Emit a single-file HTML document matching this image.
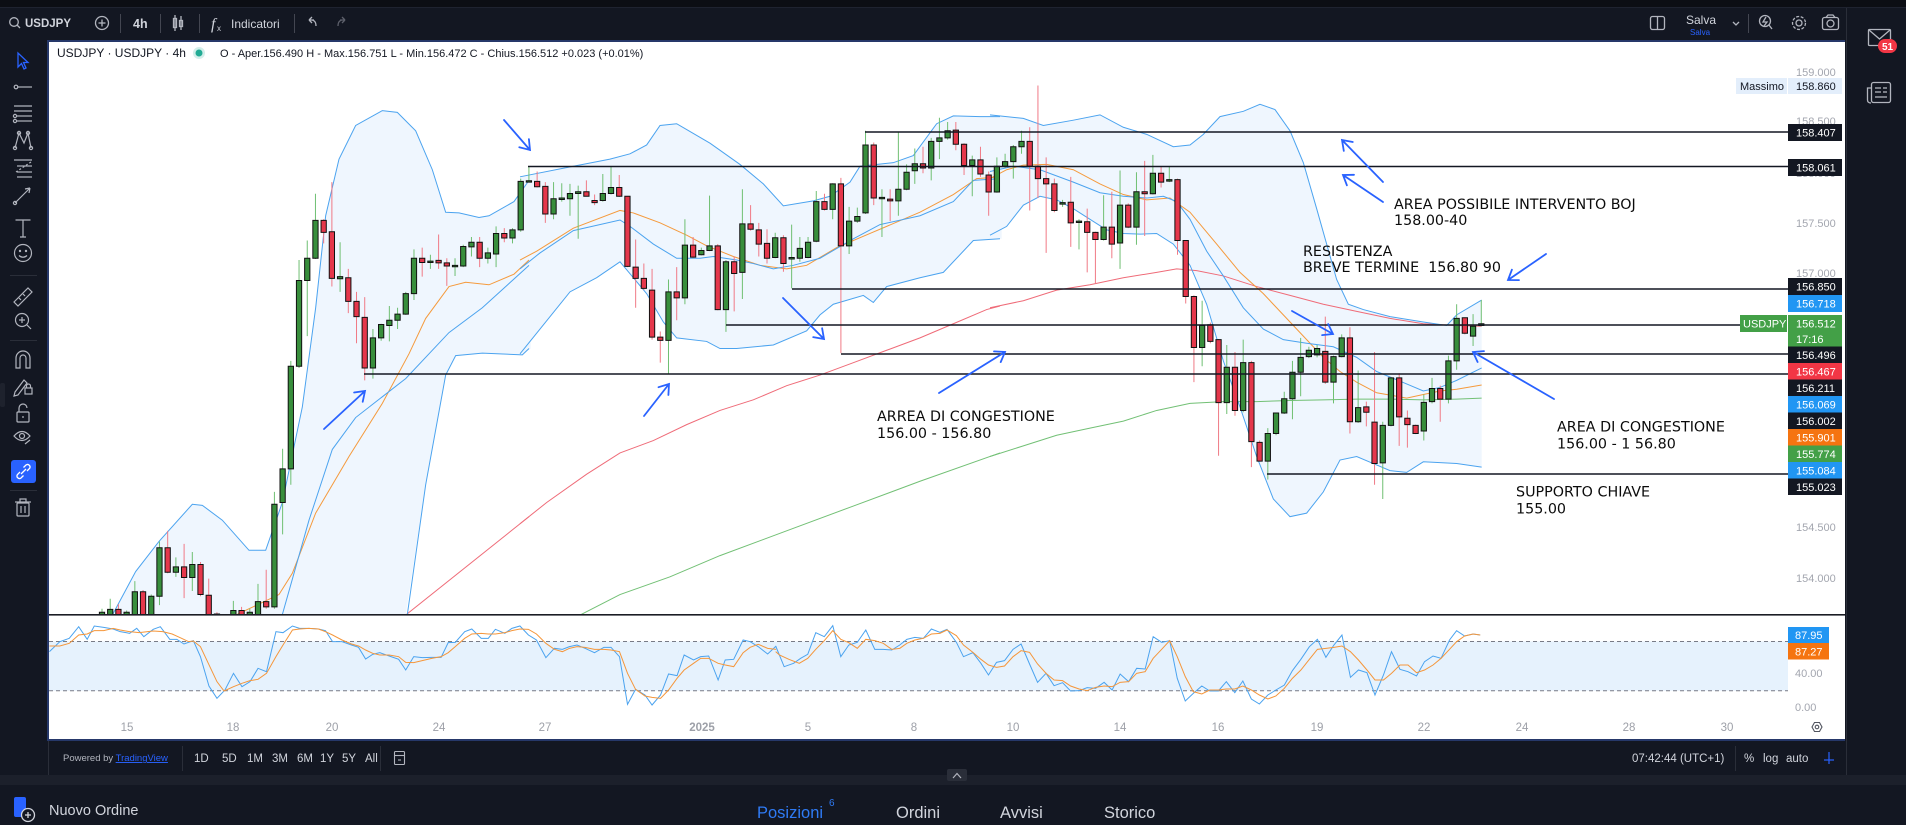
<!DOCTYPE html>
<html><head><meta charset="utf-8"><title>USDJPY 4h</title>
<style>
html,body{margin:0;padding:0;background:#131722;}
body{width:1906px;height:825px;overflow:hidden;}
svg{display:block;}
</style></head>
<body>
<svg xmlns="http://www.w3.org/2000/svg" width="1906" height="825" viewBox="0 0 1906 825" font-family="'Liberation Sans', sans-serif">
<defs>
<clipPath id="pc"><rect x="49" y="42" width="1739" height="572"/></clipPath>
<clipPath id="oc"><rect x="49" y="616" width="1739" height="100"/></clipPath>
</defs>

<!-- backgrounds -->
<rect x="0" y="0" width="1906" height="825" fill="#131722"/>
<rect x="0" y="0" width="1906" height="7" fill="#0c0e14"/>
<line x1="0" y1="7.5" x2="1906" y2="7.5" stroke="#1f2330"/>
<rect x="49" y="42" width="1796" height="697" fill="#ffffff"/>
<!-- chart widget border -->
<rect x="47" y="40" width="1798" height="2" fill="#26386a"/>
<rect x="47" y="40" width="2" height="701" fill="#26386a"/>
<rect x="47" y="739" width="1798" height="2" fill="#26386a"/>
<line x1="1846.5" y1="8" x2="1846.5" y2="775" stroke="#2a2e39"/>
<!-- bottom toolbar / strip / panel -->
<line x1="48.5" y1="741" x2="48.5" y2="775" stroke="#2a2e39"/>
<rect x="0" y="775" width="1906" height="10" fill="#1c202b"/>
<rect x="0" y="785" width="1906" height="40" fill="#131722"/>

<!-- ================= TOP TOOLBAR ================= -->
<g stroke="#b2b5be" fill="none" stroke-width="1.3">
<circle cx="14" cy="22" r="4.3"/><line x1="17" y1="25" x2="20" y2="28"/>
<circle cx="102" cy="23" r="6.5"/><line x1="98.5" y1="23" x2="105.5" y2="23"/><line x1="102" y1="19.5" x2="102" y2="26.5"/>
<rect x="173.5" y="18.5" width="3" height="9"/><line x1="175" y1="15" x2="175" y2="31"/>
<rect x="179.5" y="20.5" width="3" height="6"/><line x1="181" y1="16" x2="181" y2="30"/>
<path d="M314 20 H309 M309 20 L312 17 M309 20 L312 23 M309 20 Q316 19 316 26"/>
</g>
<path d="M340 20 H345 M345 20 L342 17 M345 20 L342 23 M345 20 Q338 19 338 26" stroke="#5d606b" stroke-width="1.3" fill="none"/>
<g stroke="#434651"><line x1="120.5" y1="14" x2="120.5" y2="33"/><line x1="160.5" y1="14" x2="160.5" y2="33"/><line x1="199.5" y1="14" x2="199.5" y2="33"/><line x1="294.5" y1="14" x2="294.5" y2="33"/><line x1="1748.5" y1="14" x2="1748.5" y2="33"/></g>
<text x="25" y="27" fill="#d1d4dc" font-size="11.5" font-weight="bold">USDJPY</text>
<text x="133" y="28" fill="#d1d4dc" font-size="12.5" font-weight="bold">4h</text>
<text x="211" y="29" fill="#d1d4dc" font-size="16" font-style="italic" font-family="'Liberation Serif', serif">f</text>
<text x="217" y="31" fill="#d1d4dc" font-size="8">x</text>
<text x="231" y="28" fill="#d1d4dc" font-size="12">Indicatori</text>
<g stroke="#b2b5be" fill="none" stroke-width="1.3">
<rect x="1650.5" y="16.5" width="14" height="13" rx="2"/><line x1="1657.5" y1="17" x2="1657.5" y2="29"/>
<path d="M1733 22 L1736 25 L1739 22"/>
<circle cx="1765" cy="21" r="5.5"/><line x1="1769" y1="25" x2="1772" y2="29"/><path d="M1766 17 L1763 22 H1767 L1764 26"/>
<circle cx="1799" cy="23" r="3"/><circle cx="1799" cy="23" r="6.5" stroke-dasharray="3 1.6"/>
<rect x="1822.5" y="17.5" width="16" height="12" rx="2"/><circle cx="1830.5" cy="23.5" r="3.5"/><path d="M1826 17.5 L1828 15 H1833 L1835 17.5"/>
</g>
<text x="1686" y="24" fill="#d1d4dc" font-size="12">Salva</text>
<text x="1690" y="35" fill="#2962ff" font-size="8">Salva</text>

<!-- right sidebar icons -->
<g stroke="#b2b5be" fill="none" stroke-width="1.3">
<rect x="1868.5" y="29.5" width="22" height="16" rx="1"/><path d="M1869 30 L1879.5 39 L1890 30"/>
<rect x="1871.5" y="82.5" width="19" height="20" rx="2"/><path d="M1871.5 88 H1867.5 V100 Q1867.5 103 1871 103"/>
<line x1="1875" y1="88" x2="1881" y2="88"/><line x1="1875" y1="92" x2="1881" y2="92"/><line x1="1883" y1="88" x2="1887" y2="88"/><line x1="1883" y1="92" x2="1887" y2="92"/><line x1="1875" y1="97" x2="1887" y2="97"/>
</g>
<rect x="1878" y="39" width="19" height="14" rx="7" fill="#f23645"/>
<text x="1887.5" y="50" fill="#ffffff" font-size="10" font-weight="bold" text-anchor="middle">51</text>

<!-- ================= LEFT TOOLBAR ================= -->
<path d="M18 53 L18 67 L21.5 63.5 L24 69 L26 68 L23.5 62.5 L28 62.5 Z" stroke="#2962ff" stroke-width="1.3" fill="none"/>
<g stroke="#b2b5be" fill="none" stroke-width="1.2">
<line x1="18" y1="87" x2="32" y2="87"/><circle cx="16" cy="87" r="1.8"/>
<line x1="14" y1="106" x2="32" y2="106"/><line x1="14" y1="111" x2="32" y2="111"/><line x1="17" y1="116" x2="32" y2="116"/><line x1="17" y1="121" x2="32" y2="121"/><circle cx="15" cy="116" r="1.6"/><circle cx="15" cy="121" r="1.6"/>
<path d="M15 148 L19 133 L24 143 L28 133 L31 148"/><circle cx="15" cy="148" r="1.6"/><circle cx="19" cy="133" r="1.6"/><circle cx="28" cy="133" r="1.6"/><circle cx="31" cy="148" r="1.6"/>
<line x1="14" y1="160" x2="32" y2="160"/><line x1="17" y1="166" x2="32" y2="166"/><line x1="17" y1="172" x2="32" y2="172"/><line x1="17" y1="177" x2="32" y2="177"/><path d="M16 172 L31 162" stroke-dasharray="2 2"/>
<path d="M15 203 L30 188 M30 188 L25 189 M30 188 L29 193"/><circle cx="15" cy="203" r="1.6"/>
<path d="M15.5 220 H30.5 M23 220 V237 M20 237 H26"/>
<circle cx="23" cy="253" r="8.5"/><path d="M19 255.5 Q23 259 27 255.5"/><circle cx="20" cy="251" r=".6"/><circle cx="26" cy="251" r=".6"/>
<polygon points="14,302 28,288 32,292 18,306"/><line x1="19" y1="298" x2="21" y2="300"/><line x1="23" y1="294" x2="25" y2="296"/>
<circle cx="22" cy="320" r="6.5"/><line x1="27" y1="325" x2="31" y2="329"/><line x1="19" y1="320" x2="25" y2="320"/><line x1="22" y1="317" x2="22" y2="323"/>
<path d="M16 368 V358 A7 7 0 0 1 30 358 V368 H26 V358 A3 3 0 0 0 20 358 V368 Z"/>
<path d="M15 392 L24 380 L27 383 L18 395 L14 396 Z"/><rect x="25" y="388" width="7" height="6"/><path d="M26.5 388 V386 A2 2 0 0 1 30.5 386 V388"/>
<rect x="17" y="412" width="12" height="10" rx="1"/><path d="M19 412 V408 A4 4 0 0 1 27 408"/><line x1="23" y1="416" x2="23" y2="418"/>
<path d="M14 436 Q22 427 30 436 Q22 445 14 436 Z"/><circle cx="22" cy="436" r="2.5"/><line x1="25" y1="444" x2="30" y2="440"/>
<rect x="17" y="503" width="12" height="13" rx="1"/><line x1="15" y1="502" x2="31" y2="502"/><path d="M20 502 V499 H26 V502"/><line x1="21" y1="506" x2="21" y2="513"/><line x1="25" y1="506" x2="25" y2="513"/>
</g>
<rect x="11" y="460" width="25" height="23" rx="3" fill="#2962ff"/>
<g stroke="#ffffff" fill="none" stroke-width="1.3"><path d="M20 472 L17.5 474.5 A2.5 2.5 0 0 0 21 478 L23.5 475.5"/><path d="M27 471 L29.5 468.5 A2.5 2.5 0 0 0 26 465 L23.5 467.5"/><line x1="21" y1="474" x2="26" y2="469"/></g>
<g stroke="#2a2e39"><line x1="10" y1="275.5" x2="37" y2="275.5"/><line x1="10" y1="340.5" x2="37" y2="340.5"/><line x1="10" y1="490.5" x2="37" y2="490.5"/></g>
<rect x="0" y="383" width="5" height="24" rx="2" fill="#1e222d"/>

<!-- ================= PRICE PANE ================= -->
<g clip-path="url(#pc)">
<!-- BB fills -->
<g transform="translate(49 60) scale(.33333 .354)" fill="#eff6fe">
<path d="M190 1600L190 1568 260 1445 330 1360 430 1255 460 1258 520 1300 600 1385 650 1385 700 1250 760 980 800 700 830 440 870 280 920 185 1000 143 1045 148 1100 200 1150 310 1190 430 1230 432 1290 445 1320 440 1395 400 1445 338 1445 815 1420 833 1300 828 1220 835 1190 890 1130 1200 1070 1568 1070 1600Z"/>
</g>
<g transform="translate(520 60) scale(.33333 .354)" fill="#eff6fe">
<path d="M0 330L160 300 270 280 330 265 380 240 420 185 470 180 570 235 660 295 730 350 790 412 880 398 930 385 990 345 1020 300 1120 290 1180 270 1250 180 1300 158 1380 160 1445 160 1445 505 1360 510 1270 600 1200 615 1100 640 1060 685 1030 665 940 690 900 720 860 765 760 805 650 815 600 815 560 795 470 785 430 740 380 660 300 570 230 615 150 655 60 760 0 830Z"/>
</g>
<g transform="translate(990 60) scale(.33333 .354)" fill="#eff6fe">
<path d="M0 155L100 165 160 185 250 170 330 155 400 190 470 210 550 245 600 240 640 210 690 160 760 145 810 125 855 140 900 200 940 290 980 420 1010 520 1040 620 1075 690 1120 705 1200 725 1300 740 1370 750 1400 720 1475 678 1475 1150 1400 1140 1300 1135 1250 1165 1200 1160 1150 1140 1100 1120 1050 1130 1000 1220 950 1280 900 1290 850 1240 800 1120 750 980 700 850 650 690 600 580 550 520 500 490 450 492 400 490 350 480 300 450 250 420 200 395 150 385 100 410 50 470 0 495Z"/>
</g>
<!-- indicator lines -->
<g fill="none" stroke-width="1" vector-effect="non-scaling-stroke">
<g transform="translate(49 60) scale(.33333 .354)">
<path vector-effect="non-scaling-stroke" stroke="#ef6b78" d="M1070 1568L1440 1290"/>
<path vector-effect="non-scaling-stroke" stroke="#f59a3c" d="M560 1568L690 1510 730 1450 800 1280 900 1120 1000 970 1080 830 1130 730 1200 640 1250 628 1320 635 1395 605 1440 565"/>
<path vector-effect="non-scaling-stroke" stroke="#4ba3ef" d="M690 1600L780 1300 850 1100 920 1010 1070 900 1200 770 1300 700 1440 580"/>
<path vector-effect="non-scaling-stroke" stroke="#4ba3ef" d="M190 1568L260 1445 330 1360 430 1255 460 1258 520 1300 600 1385 650 1385 700 1250 760 980 800 700 830 440 870 280 920 185 1000 143 1045 148 1100 200 1150 310 1190 430 1230 432 1290 445 1320 440 1395 400 1440 340"/>
<path vector-effect="non-scaling-stroke" stroke="#4ba3ef" d="M1070 1600L1130 1200 1190 890 1220 835 1300 828 1420 833 1440 815"/>
</g>
<g transform="translate(520 60) scale(.33333 .354)">
<path vector-effect="non-scaling-stroke" stroke="#ef6b78" d="M0 1310L80 1250 200 1170 300 1110 400 1075 500 1030 600 990 700 960 800 920 900 890 1000 855 1100 820 1200 785 1300 745 1400 705 1440 695"/>
<path vector-effect="non-scaling-stroke" stroke="#72c075" d="M180 1568L300 1510 450 1460 600 1400 800 1330 1000 1260 1200 1190 1440 1110"/>
<path vector-effect="non-scaling-stroke" stroke="#f59a3c" d="M0 565L50 540 160 475 300 425 340 432 420 460 500 495 560 525 640 555 720 580 800 590 860 580 950 530 1050 490 1100 470 1200 430 1300 380 1370 335 1440 330"/>
<path vector-effect="non-scaling-stroke" stroke="#4ba3ef" d="M0 590L60 545 160 482 300 452 330 470 400 520 470 560 540 560 580 555 650 565 700 575 760 590 820 580 900 560 1000 505 1080 465 1200 440 1300 400 1360 340 1440 335"/>
<path vector-effect="non-scaling-stroke" stroke="#4ba3ef" d="M0 330L160 300 270 280 330 265 380 240 420 185 470 180 570 235 660 295 730 350 790 412 880 398 930 385 990 345 1020 300 1120 290 1180 270 1250 180 1300 158 1380 160 1440 160"/>
<path vector-effect="non-scaling-stroke" stroke="#4ba3ef" d="M0 830L60 760 150 655 230 615 300 570 380 660 430 740 470 785 560 795 600 815 650 815 760 805 860 765 900 720 940 690 1030 665 1060 685 1100 640 1200 615 1270 600 1360 510 1440 505"/>
</g>
<g transform="translate(990 60) scale(.33333 .354)">
<path vector-effect="non-scaling-stroke" stroke="#ef6b78" d="M0 700L100 680 200 650 300 635 400 615 500 600 560 590 620 595 700 610 800 640 900 665 1000 690 1100 710 1200 730 1300 745 1400 750 1475 752"/>
<path vector-effect="non-scaling-stroke" stroke="#72c075" d="M0 1120L100 1090 200 1060 300 1040 400 1020 500 990 600 970 700 965 800 965 900 962 1000 960 1100 958 1200 958 1300 960 1400 958 1475 955"/>
<path vector-effect="non-scaling-stroke" stroke="#f59a3c" d="M0 335L50 310 100 297 170 295 250 310 330 350 400 380 470 395 540 390 600 430 680 520 750 600 820 660 880 720 940 780 1000 840 1050 880 1100 910 1160 940 1250 955 1300 945 1350 935 1400 930 1475 918"/>
<path vector-effect="non-scaling-stroke" stroke="#4ba3ef" d="M0 315L70 300 150 310 250 345 330 375 400 385 470 390 520 385 560 400 600 450 650 540 700 610 760 700 820 760 880 790 950 800 1030 810 1100 840 1160 880 1250 915 1300 935 1350 925 1400 905 1475 870"/>
<path vector-effect="non-scaling-stroke" stroke="#4ba3ef" d="M0 155L100 165 160 185 250 170 330 155 400 190 470 210 550 245 600 240 640 210 690 160 760 145 810 125 855 140 900 200 940 290 980 420 1010 520 1040 620 1075 690 1120 705 1200 725 1300 740 1370 750 1400 720 1475 678"/>
<path vector-effect="non-scaling-stroke" stroke="#4ba3ef" d="M0 495L50 470 100 410 150 385 200 395 250 420 300 450 350 480 400 490 450 492 500 490 550 520 600 580 650 690 700 850 750 980 800 1120 850 1240 900 1290 950 1280 1000 1220 1050 1130 1100 1120 1150 1140 1200 1160 1250 1165 1300 1135 1400 1140 1475 1150"/>
</g>
</g>

<!-- candles -->
<g transform="translate(102 60) scale(8.21 .354)">
<path vector-effect="non-scaling-stroke" stroke="#6fbf72" stroke-width="1" fill="none" d="M0 1550V1600M1 1522V1600M3 1555V1600M4 1472V1600M6 1510V1600M7 1360V1540M9 1405V1460M11 1390V1500M15 1565V1600M16 1528V1600M18 1550V1600M19 1480V1600M21 1220V1550M22 1098V1340M23 850V1200M24 565V870M25 510V780M26 378V562M29 515V655M33 760V900M34 745V793M35 695V795M36 700V760M37 655V720M38 535V678M40 550V590M43 560V610M44 522V585M45 500V555M47 530V575M48 470V585M50 475V518M51 335V485M52 300V345M55 345V450M56 348V400M57 350V440M58 355V505M61 322V400M62 300V380M69 620V888M71 450V690M73 530V552M74 383V540M76 565V768M78 365V675M82 488V560M84 465V645M85 500V570M86 500V560M87 370V515M89 348V450M91 415V548M92 417V460M93 200V435M95 365V500M97 203V440M98 295V368M99 250V350M101 220V340M102 163V280M103 175V225M106 270V385M109 275V375M110 265V305M111 240V335M112 200V265M117 395V415M119 450V535M122 382V510M124 312V590M126 317V522M128 268V380M130 300V345M134 680V865M137 805V1000M139 790V995M142 1040V1185M143 997V1060M144 937V1000M145 850V1015M146 785V950M147 810V842M148 805V840M150 835V970M151 775V840M153 877V1025M156 1022V1240M157 895V1035M161 945V1075M162 898V970M164 835V970M165 690V875M167 718V808M168 678V752"/>
<path vector-effect="non-scaling-stroke" stroke="#f07a86" stroke-width="1" fill="none" d="M2 1537V1600M5 1497V1600M8 1330V1450M10 1367V1520M12 1418V1515M13 1465V1600M14 1560V1600M17 1545V1600M20 1440V1550M27 450V518M28 345V640M30 590V715M31 655V800M32 670V905M39 530V612M41 493V590M42 560V638M46 500V585M49 475V515M53 315V360M54 345V460M59 340V385M60 380V410M63 325V387M64 385V585M65 507V700M66 575V650M67 590V790M68 767V855M70 585V735M72 500V560M75 520V707M77 555V710M79 410V482M80 460V555M81 478V575M83 495V598M88 378V425M90 333V828M94 233V410M96 365V455M100 245V320M104 175V255M105 235V325M107 245V330M108 315V440M113 190V425M114 72V390M115 275V545M116 335V430M118 330V528M120 420V600M121 485V630M123 372V560M125 405V475M127 285V497M129 300V360M131 335V550M132 510V688M133 665V910M135 742V800M136 788V1118M138 825V1005M140 850V1150M141 1075V1135M149 725V915M152 755V1055M154 965V1035M155 825V1200M158 885V1090M159 990V1095M160 1030V1057M163 920V1022M166 727V775"/>
<path vector-effect="non-scaling-stroke" stroke="#111111" stroke-width="1" fill="#388e3c" d="M-.32 1560h.64V1600h-.64zM.68 1552h.64V1600h-.64zM2.68 1560h.64V1600h-.64zM3.68 1502h.64V1600h-.64zM5.68 1515h.64V1600h-.64zM6.68 1378h.64V1515h-.64zM8.68 1432h.64V1447h-.64zM10.68 1425h.64V1462h-.64zM14.68 1570h.64V1600h-.64zM15.68 1555h.64V1600h-.64zM17.68 1560h.64V1600h-.64zM18.68 1530h.64V1600h-.64zM20.68 1255h.64V1545h-.64zM21.68 1155h.64V1250h-.64zM22.68 865h.64V1155h-.64zM23.68 623h.64V865h-.64zM24.68 560h.64V623h-.64zM25.68 453h.64V560h-.64zM28.68 612h.64V618h-.64zM32.68 785h.64V870h-.64zM33.68 747h.64V785h-.64zM34.68 735h.64V750h-.64zM35.68 718h.64V735h-.64zM36.68 660h.64V718h-.64zM37.68 560h.64V660h-.64zM39.68 568h.64V572h-.64zM42.68 580h.64V584h-.64zM43.68 527h.64V582h-.64zM44.68 515h.64V528h-.64zM46.68 545h.64V560h-.64zM47.68 490h.64V548h-.64zM49.68 480h.64V503h-.64zM50.68 343h.64V480h-.64zM51.68 341h.64V345h-.64zM54.68 392h.64V435h-.64zM55.68 390h.64V394h-.64zM56.68 377h.64V392h-.64zM57.68 372h.64V377h-.64zM60.68 377h.64V397h-.64zM61.68 360h.64V377h-.64zM68.68 655h.64V792h-.64zM70.68 523h.64V672h-.64zM72.68 538h.64V550h-.64zM73.68 525h.64V538h-.64zM75.68 570h.64V705h-.64zM77.68 463h.64V600h-.64zM81.68 502h.64V558h-.64zM83.68 558h.64V562h-.64zM84.68 532h.64V560h-.64zM85.68 515h.64V558h-.64zM86.68 400h.64V512h-.64zM88.68 350h.64V422h-.64zM90.68 455h.64V525h-.64zM91.68 442h.64V455h-.64zM92.68 240h.64V432h-.64zM94.68 388h.64V392h-.64zM96.68 365h.64V398h-.64zM97.68 317h.64V365h-.64zM98.68 293h.64V313h-.64zM100.68 230h.64V305h-.64zM101.68 220h.64V230h-.64zM102.68 200h.64V220h-.64zM105.68 282h.64V298h-.64zM108.68 300h.64V373h-.64zM109.68 287h.64V300h-.64zM110.68 245h.64V287h-.64zM111.68 230h.64V245h-.64zM116.68 403h.64V407h-.64zM118.68 455h.64V459h-.64zM121.68 472h.64V507h-.64zM123.68 410h.64V517h-.64zM125.68 372h.64V472h-.64zM127.68 320h.64V378h-.64zM129.68 338h.64V342h-.64zM133.68 750h.64V812h-.64zM136.68 868h.64V968h-.64zM138.68 855h.64V990h-.64zM141.68 1055h.64V1133h-.64zM142.68 997h.64V1055h-.64zM143.68 957h.64V997h-.64zM144.68 882h.64V957h-.64zM145.68 840h.64V882h-.64zM146.68 820h.64V838h-.64zM147.68 815h.64V833h-.64zM149.68 838h.64V910h-.64zM150.68 785h.64V838h-.64zM152.68 982h.64V1022h-.64zM155.68 1032h.64V1138h-.64zM156.68 898h.64V1032h-.64zM160.68 967h.64V1048h-.64zM161.68 928h.64V965h-.64zM163.68 850h.64V958h-.64zM164.68 730h.64V850h-.64zM166.68 752h.64V780h-.64zM167.68 745h.64V750h-.64z"/>
<path vector-effect="non-scaling-stroke" stroke="#111111" stroke-width="1" fill="#e5374b" d="M1.68 1552h.64V1600h-.64zM4.68 1502h.64V1600h-.64zM7.68 1378h.64V1447h-.64zM9.68 1432h.64V1462h-.64zM11.68 1425h.64V1510h-.64zM12.68 1512h.64V1600h-.64zM13.68 1565h.64V1600h-.64zM16.68 1555h.64V1600h-.64zM19.68 1530h.64V1545h-.64zM26.68 453h.64V487h-.64zM27.68 485h.64V617h-.64zM29.68 615h.64V682h-.64zM30.68 682h.64V725h-.64zM31.68 727h.64V870h-.64zM38.68 560h.64V572h-.64zM40.68 566h.64V573h-.64zM41.68 573h.64V582h-.64zM45.68 515h.64V560h-.64zM48.68 490h.64V503h-.64zM52.68 343h.64V358h-.64zM53.68 357h.64V435h-.64zM58.68 372h.64V385h-.64zM59.68 397h.64V403h-.64zM62.68 360h.64V385h-.64zM63.68 385h.64V583h-.64zM64.68 585h.64V617h-.64zM65.68 617h.64V645h-.64zM66.68 650h.64V783h-.64zM67.68 783h.64V792h-.64zM69.68 655h.64V672h-.64zM71.68 523h.64V557h-.64zM74.68 525h.64V705h-.64zM76.68 570h.64V603h-.64zM78.68 463h.64V478h-.64zM79.68 480h.64V520h-.64zM80.68 518h.64V560h-.64zM82.68 502h.64V575h-.64zM87.68 400h.64V422h-.64zM89.68 350h.64V525h-.64zM93.68 240h.64V390h-.64zM95.68 393h.64V398h-.64zM99.68 293h.64V305h-.64zM103.68 198h.64V238h-.64zM104.68 238h.64V298h-.64zM106.68 282h.64V322h-.64zM107.68 325h.64V373h-.64zM112.68 230h.64V300h-.64zM113.68 300h.64V335h-.64zM114.68 335h.64V350h-.64zM115.68 350h.64V425h-.64zM117.68 402h.64V460h-.64zM119.68 457h.64V487h-.64zM120.68 487h.64V507h-.64zM122.68 472h.64V520h-.64zM124.68 410h.64V472h-.64zM126.68 372h.64V378h-.64zM128.68 320h.64V345h-.64zM130.68 338h.64V510h-.64zM131.68 510h.64V668h-.64zM132.68 668h.64V812h-.64zM134.68 748h.64V795h-.64zM135.68 790h.64V968h-.64zM137.68 868h.64V990h-.64zM139.68 855h.64V1078h-.64zM140.68 1080h.64V1133h-.64zM148.68 823h.64V910h-.64zM151.68 785h.64V1022h-.64zM153.68 980h.64V995h-.64zM154.68 1023h.64V1140h-.64zM157.68 898h.64V1008h-.64zM158.68 1012h.64V1030h-.64zM159.68 1032h.64V1055h-.64zM162.68 928h.64V958h-.64zM165.68 728h.64V772h-.64z"/>
</g>

<!-- horizontal drawing lines -->
<g stroke="#131722" stroke-width="1.6">
<line x1="865" y1="132" x2="1788" y2="132"/>
<line x1="528" y1="166.5" x2="1788" y2="166.5"/>
<line x1="792" y1="289" x2="1788" y2="289"/>
<line x1="726" y1="325" x2="1740" y2="325"/>
<line x1="841" y1="354" x2="1788" y2="354"/>
<line x1="364" y1="374" x2="1788" y2="374"/>
<line x1="1267" y1="474" x2="1788" y2="474"/>
</g>

<!-- arrows -->
<g stroke="#2962ff" stroke-width="1.8" fill="none" stroke-linecap="round">
<path d="M324 429L365 391M354.1 392.5L365 391L362.7 401.8"/>
<path d="M504 120L530 150M528.9 139.1L530 150L519.3 147.3"/>
<path d="M644 416L669 384M658.5 387.2L669 384L668.4 395"/>
<path d="M783 298L824 339M822.1 328.2L824 339L813.2 337.1"/>
<path d="M939 393L1005 352M994 351.4L1005 352L1000.7 362.1"/>
<path d="M1383 182L1342 140M1343.8 150.9L1342 140L1352.8 142"/>
<path d="M1383 202L1343 175M1346.9 185.3L1343 175L1354 174.8"/>
<path d="M1292 311L1333 334M1328.2 324.1L1333 334L1322.1 335.1"/>
<path d="M1546 254L1508 280M1519 280.1L1508 280L1511.9 269.7"/>
<path d="M1554 399L1473 352M1477.6 362L1473 352L1484 351.1"/>
</g>
</g>

<!-- annotation texts -->
<g font-family="'DejaVu Sans', sans-serif" font-size="14.3" fill="#0b0b0b">
<text x="877" y="421">ARREA DI CONGESTIONE</text>
<text x="877" y="438">156.00 - 156.80</text>
<text x="1394" y="209">AREA POSSIBILE INTERVENTO BOJ</text>
<text x="1394" y="225">158.00-40</text>
<text x="1303" y="256">RESISTENZA</text>
<text x="1303" y="272">BREVE TERMINE&#160;&#160;156.80 90</text>
<text x="1557" y="431.5">AREA DI CONGESTIONE</text>
<text x="1557" y="448.5">156.00 - 1 56.80</text>
<text x="1516" y="496.5">SUPPORTO CHIAVE</text>
<text x="1516" y="513.5">155.00</text>
</g>

<!-- legend -->
<text x="57" y="57" fill="#131722" font-size="12">USDJPY · USDJPY · 4h</text>
<circle cx="199" cy="53" r="6" fill="#22ab94" fill-opacity=".2"/>
<circle cx="199" cy="53" r="3.5" fill="#22ab94"/>
<text x="220" y="57" fill="#131722" font-size="11">O - Aper.156.490 H - Max.156.751 L - Min.156.472 C - Chius.156.512 +0.023 (+0.01%)</text>

<!-- price axis -->
<g font-size="11" fill="#a3a6af">
<text x="1796" y="76">159.000</text>
<text x="1796" y="125">158.500</text>
<text x="1796" y="177">158.000</text>
<text x="1796" y="227">157.500</text>
<text x="1796" y="277">157.000</text>
<text x="1796" y="531">154.500</text>
<text x="1796" y="582">154.000</text>
</g>
<rect x="1736" y="78" width="51" height="16" fill="#e3eefb"/>
<rect x="1788" y="78" width="54" height="16" fill="#e3eefb"/>
<g font-size="11" fill="#131722"><text x="1740" y="90">Massimo</text><text x="1796" y="90">158.860</text></g>
<rect x="1788" y="124" width="54" height="17" fill="#131722"/>
<rect x="1788" y="159" width="54" height="17" fill="#131722"/>
<rect x="1788" y="278" width="54" height="17" fill="#131722"/>
<rect x="1788" y="295" width="54" height="17" fill="#2196f3"/>
<rect x="1740" y="315" width="47" height="17" fill="#43a047"/>
<rect x="1788" y="315" width="54" height="31.5" fill="#43a047"/>
<rect x="1788" y="346.5" width="54" height="16.5" fill="#131722"/>
<rect x="1788" y="363" width="54" height="16.5" fill="#f23645"/>
<rect x="1788" y="379.5" width="54" height="16.5" fill="#131722"/>
<rect x="1788" y="396" width="54" height="16.5" fill="#2196f3"/>
<rect x="1788" y="412.5" width="54" height="16.5" fill="#131722"/>
<rect x="1788" y="429" width="54" height="16.5" fill="#f57410"/>
<rect x="1788" y="445.5" width="54" height="16.5" fill="#43a047"/>
<rect x="1788" y="462" width="54" height="16.5" fill="#2196f3"/>
<rect x="1788" y="478.5" width="54" height="16.5" fill="#131722"/>
<g font-size="11" fill="#ffffff">
<text x="1796" y="136.5">158.407</text>
<text x="1796" y="171.5">158.061</text>
<text x="1796" y="290.5">156.850</text>
<text x="1796" y="307.5">156.718</text>
<text x="1743" y="327.5">USDJPY</text>
<text x="1796" y="327.5">156.512</text>
<text x="1796" y="343">17:16</text>
<text x="1796" y="358.8">156.496</text>
<text x="1796" y="375.3">156.467</text>
<text x="1796" y="391.8">156.211</text>
<text x="1796" y="408.3">156.069</text>
<text x="1796" y="424.8">156.002</text>
<text x="1796" y="441.3">155.901</text>
<text x="1796" y="457.8">155.774</text>
<text x="1796" y="474.3">155.084</text>
<text x="1796" y="490.8">155.023</text>
</g>

<!-- pane separator -->
<rect x="49" y="614" width="1796" height="1.6" fill="#1b1d24"/>

<!-- ================= OSCILLATOR ================= -->
<rect x="49" y="641.5" width="1739" height="49.2" fill="#e6f2fd"/>
<g stroke="#787b86" stroke-width="1" stroke-dasharray="4 3">
<line x1="49" y1="641.5" x2="1788" y2="641.5"/>
<line x1="49" y1="690.7" x2="1788" y2="690.7"/>
</g>
<g clip-path="url(#oc)" fill="none" stroke-width="1">
<g transform="translate(40 610) scale(.4719 .33333)">
<path vector-effect="non-scaling-stroke" stroke="#4ba3ef" d="M20 125L42 95 62 85 82 50 100 88 115 48 135 52 155 57 170 65 190 70 205 55 220 80 240 58 255 50 275 88 290 88 305 102 325 92 340 140 358 228 375 265 392 240 410 190 428 230 445 215 462 175 480 185 500 65 515 68 535 48 550 55 570 55 590 57 605 62 620 95 640 95 660 105 675 112 690 147 705 133 720 128 740 138 760 148 775 180 792 140 810 143 830 142 850 142 865 98 880 97 900 65 915 57 935 85 950 85 965 58 985 70 1000 55 1017 48 1035 75 1052 90 1072 143 1090 115 1107 118 1122 110 1138 105 1155 115 1175 128 1195 112 1210 112 1228 140 1245 283 1262 238 1282 255 1297 285 1315 255 1332 192 1350 197 1365 135 1385 150 1400 140 1417 138 1437 210 1452 150 1470 148 1490 90 1505 95 1522 110 1542 132 1560 108"/>
<path vector-effect="non-scaling-stroke" stroke="#f5963a" d="M20 108L42 108 62 100 82 75 100 72 115 62 135 62 155 55 170 60 190 65 210 68 240 63 260 65 280 72 300 85 315 95 325 93 340 110 360 170 375 215 390 243 410 230 428 220 445 212 462 208 480 190 500 140 515 105 535 60 550 57 570 55 590 57 605 65 620 75 640 90 660 102 675 108 690 120 705 130 720 135 740 135 760 140 775 157 792 158 810 152 830 145 850 140 865 128 880 110 900 85 915 72 935 70 950 72 965 72 985 68 1000 62 1017 57 1035 58 1052 72 1072 100 1090 118 1107 125 1122 115 1138 110 1155 112 1175 118 1195 118 1210 120 1228 125 1245 190 1262 238 1282 258 1297 262 1315 265 1332 240 1350 205 1365 180 1385 160 1400 145 1417 145 1437 160 1452 165 1470 170 1490 128 1505 112 1522 103 1542 115 1560 118"/>
</g>
<g transform="translate(770 610) scale(.4719 .33333)">
<path vector-effect="non-scaling-stroke" stroke="#4ba3ef" d="M12 108L30 170 50 160 65 145 80 133 97 68 115 80 133 47 150 140 167 105 185 97 203 60 222 118 240 118 258 120 275 105 290 88 307 82 325 85 342 57 360 67 375 58 395 97 410 140 430 128 447 160 463 195 480 157 497 152 515 118 532 102 550 162 567 217 585 190 602 227 620 218 637 243 655 242 672 233 690 235 708 217 725 240 742 192 760 215 777 175 795 177 812 80 830 97 847 92 863 205 880 273 897 250 915 228 932 243 950 243 967 215 985 248 1002 213 1020 267 1037 282 1055 255 1072 240 1090 225 1107 182 1125 148 1143 110 1160 88 1178 142 1195 105 1212 75 1230 202 1247 180 1265 188 1282 255 1300 195 1317 125 1335 178 1352 185 1370 198 1387 155 1405 138 1422 145 1440 90 1455 62 1472 78 1490 72 1505 75"/>
<path vector-effect="non-scaling-stroke" stroke="#f5963a" d="M12 125L20 135 40 148 62 160 80 145 97 118 115 92 133 62 150 88 167 98 185 115 203 88 222 92 240 100 258 118 275 115 290 100 307 90 325 85 342 72 360 70 375 60 395 77 410 105 430 127 447 148 463 165 480 172 497 168 515 140 532 122 550 127 567 162 585 190 602 210 620 212 637 228 655 237 672 242 690 232 708 228 725 230 742 217 760 215 777 190 795 185 812 145 830 118 847 92 863 140 880 200 897 245 915 252 932 240 950 240 967 237 985 237 1002 228 1020 240 1037 255 1055 267 1072 258 1090 235 1107 205 1125 180 1143 148 1160 118 1178 115 1195 112 1212 108 1230 125 1247 150 1265 180 1282 210 1300 210 1317 190 1335 165 1352 165 1370 188 1387 180 1405 165 1422 145 1440 118 1455 95 1472 78 1490 72 1505 75"/>
</g>
</g>
<rect x="1788" y="627" width="41" height="16" fill="#2196f3"/>
<rect x="1788" y="643" width="41" height="16.5" fill="#f57410"/>
<g font-size="11"><text x="1795" y="639" fill="#fff">87.95</text><text x="1795" y="655.5" fill="#fff">87.27</text>
<text x="1795" y="677" fill="#a3a6af">40.00</text><text x="1795" y="711" fill="#a3a6af">0.00</text></g>

<!-- time axis -->
<g font-size="11.5" fill="#9da0a8" text-anchor="middle">
<text x="127" y="731">15</text><text x="233" y="731">18</text><text x="332" y="731">20</text><text x="439" y="731">24</text><text x="545" y="731">27</text>
<text x="702" y="731" font-weight="bold">2025</text>
<text x="808" y="731">5</text><text x="914" y="731">8</text><text x="1013" y="731">10</text><text x="1120" y="731">14</text><text x="1218" y="731">16</text>
<text x="1317" y="731">19</text><text x="1424" y="731">22</text><text x="1522" y="731">24</text><text x="1629" y="731">28</text><text x="1727" y="731">30</text>
</g>
<g stroke="#50535e" fill="none" stroke-width="1.1"><polygon points="1812,727 1814.5,722.5 1819.5,722.5 1822,727 1819.5,731.5 1814.5,731.5"/><circle cx="1817" cy="727" r="1.8"/></g>

<!-- ================= BOTTOM TOOLBAR ================= -->
<text x="63" y="761" fill="#b2b5be" font-size="9.5">Powered by <tspan fill="#2962ff" text-decoration="underline">TradingView</tspan></text>
<g stroke="#2a2e39"><line x1="182.5" y1="746" x2="182.5" y2="771"/><line x1="380.5" y1="746" x2="380.5" y2="771"/><line x1="1735.5" y1="746" x2="1735.5" y2="771"/></g>
<g font-size="11.5" fill="#d1d4dc">
<text x="194" y="762">1D</text><text x="222" y="762">5D</text><text x="247" y="762">1M</text><text x="272" y="762">3M</text><text x="297" y="762">6M</text><text x="320" y="762">1Y</text><text x="342" y="762">5Y</text><text x="365" y="762">All</text>
<text x="1632" y="762">07:42:44 (UTC+1)</text>
<text x="1744" y="762">%</text><text x="1763" y="762">log</text><text x="1786" y="762">auto</text>
</g>
<g stroke="#b2b5be" fill="none" stroke-width="1.1"><rect x="394.5" y="751.5" width="10" height="13" rx="1"/><line x1="394.5" y1="755.5" x2="404.5" y2="755.5"/><line x1="398" y1="760" x2="401" y2="760"/></g>
<g stroke="#2962ff" stroke-width="1.2"><line x1="1829" y1="752" x2="1829" y2="764"/><line x1="1824" y1="760" x2="1834" y2="760"/></g>
<rect x="947" y="769" width="20" height="12" rx="2" fill="#2a2e39"/>
<path d="M953 778 L957 773.5 L961 778" stroke="#b2b5be" stroke-width="1.2" fill="none"/>

<!-- ================= BOTTOM PANEL ================= -->
<rect x="14" y="797" width="12" height="20" rx="2" fill="#2962ff"/>
<circle cx="28" cy="815" r="6.5" fill="#131722" stroke="#d1d4dc" stroke-width="1.3"/>
<g stroke="#d1d4dc" stroke-width="1.3"><line x1="25" y1="815" x2="31" y2="815"/><line x1="28" y1="812" x2="28" y2="818"/></g>
<text x="49" y="815" fill="#d1d4dc" font-size="14.5">Nuovo Ordine</text>
<text x="757" y="818" fill="#2f7bf5" font-size="16.5">Posizioni</text>
<text x="829" y="806" fill="#2f7bf5" font-size="10">6</text>
<g font-size="16.5" fill="#d1d4dc">
<text x="896" y="818">Ordini</text><text x="1000" y="818">Avvisi</text><text x="1104" y="818">Storico</text>
</g>
</svg>
</body></html>
